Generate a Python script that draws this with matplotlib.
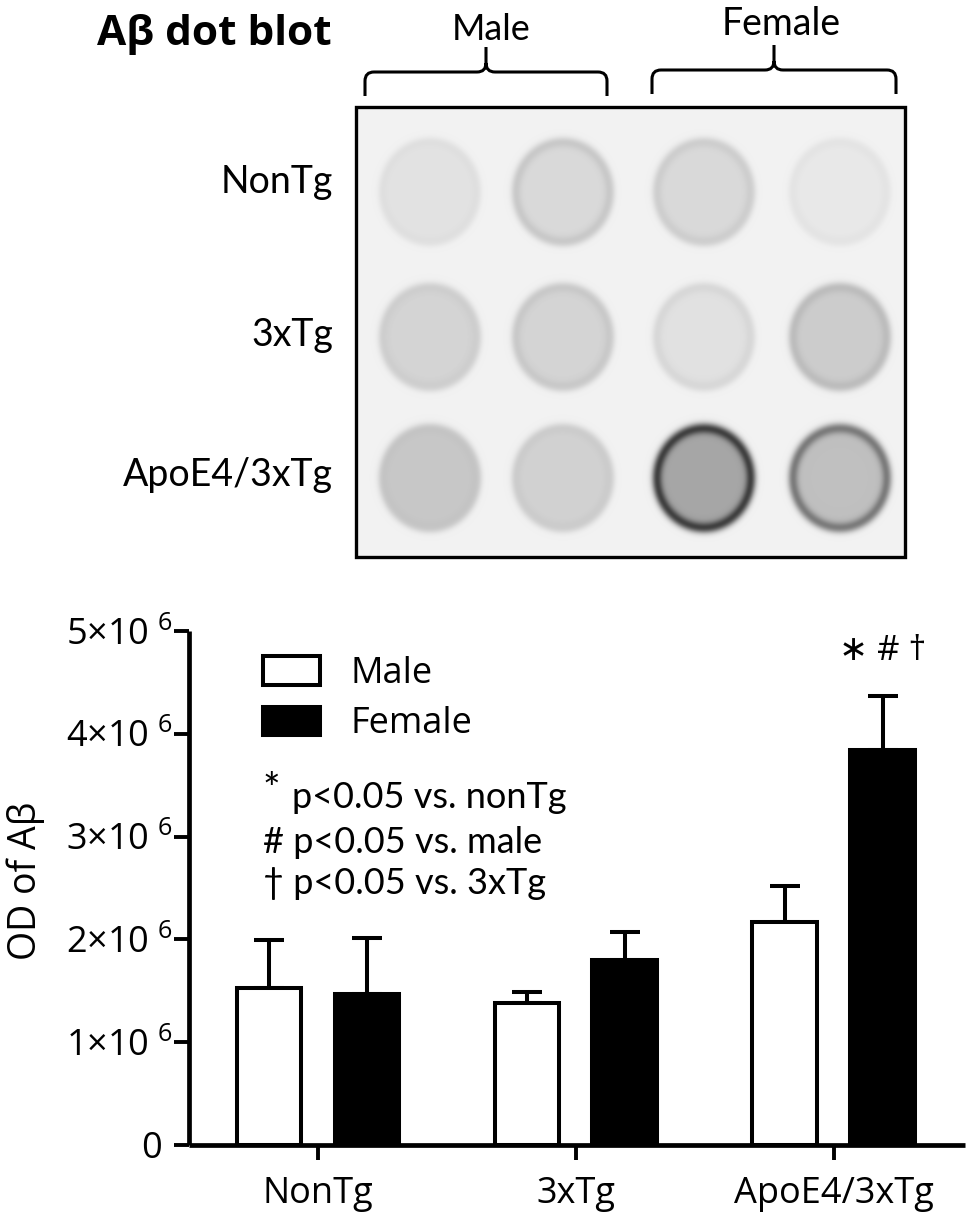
import numpy as np
import matplotlib
matplotlib.use("Agg")
import matplotlib.pyplot as plt
from matplotlib.path import Path
from matplotlib.patches import PathPatch, Rectangle
from matplotlib.ticker import FixedLocator, FuncFormatter

# ---------------- data ----------------
groups = ["NonTg", "3xTg", "ApoE4/3xTg"]
sexes = ["Male", "Female"]
male_mean = [1.53e6, 1.38e6, 2.17e6]
male_sem = [0.46e6, 0.11e6, 0.35e6]
female_mean = [1.47e6, 1.80e6, 3.84e6]
female_sem = [0.54e6, 0.27e6, 0.53e6]
y_ticks = [0, 1e6, 2e6, 3e6, 4e6, 5e6]
sig_marks = "∗ # †"
legend_notes = ["p<0.05 vs. nonTg", "# p<0.05 vs. male", "† p<0.05 vs. 3xTg"]

# dot blot: rows = genotype, cols = Male, Male, Female, Female
blot_rows = ["NonTg", "3xTg", "ApoE4/3xTg"]
blot_fill = [[0.06, 0.10, 0.10, 0.04],
             [0.12, 0.12, 0.07, 0.15],
             [0.17, 0.13, 0.30, 0.20]]
blot_rim = [[0.02, 0.07, 0.05, 0.02],
            [0.03, 0.05, 0.04, 0.07],
            [0.02, 0.03, 0.42, 0.28]]
blot_bg = 0.05

# ---------------- figure ----------------
W, H = 970, 1220
fig = plt.figure(figsize=(W / 100, H / 100), dpi=100)
fig.patch.set_facecolor("white")

SANS = ["Open Sans", "DejaVu Sans"]
CAL = ["Lato", "DejaVu Sans"]
plt.rcParams["mathtext.default"] = "regular"

# ---- top panel (pixel coordinates) ----
axt = fig.add_axes([0, 0, 1, 1])
axt.set_xlim(0, W)
axt.set_ylim(H, 0)
axt.axis("off")

bx0, bx1, by0, by1 = 356, 905, 107, 557
col_cx = [430, 563, 704, 840]
row_cy = [192, 337, 478]
rx, ry = 51, 54
xs = np.arange(bx0, bx1) + 0.5
ys = np.arange(by0, by1) + 0.5
X, Y = np.meshgrid(xs, ys)
dark = np.full(X.shape, blot_bg)
for i, cy in enumerate(row_cy):
    for j, cx in enumerate(col_cx):
        r = np.sqrt(((X - cx) / rx) ** 2 + ((Y - cy) / ry) ** 2)
        disk = 0.5 * (1 - np.tanh((r - 1.0) / 0.07))
        ring = np.exp(-((r - 0.92) / 0.1) ** 2)
        dark += blot_fill[i][j] * disk + blot_rim[i][j] * ring
img = np.clip(1 - dark, 0, 1)
axt.imshow(img, cmap="gray", vmin=0, vmax=1, extent=(bx0, bx1, by1, by0),
           interpolation="bilinear", aspect="auto", zorder=1)
axt.add_patch(Rectangle((bx0, by0), bx1 - bx0, by1 - by0, fill=False,
                        lw=2.4, ec="black", zorder=3))


def brace(x0, x1, xm, yh, yend, ytip, r=9):
    verts = [(x0, yend), (x0, yh + r), (x0, yh), (x0 + r, yh), (xm - r, yh),
             (xm, yh), (xm, yh - r), (xm, ytip),
             (xm, yh - r), (xm, yh), (xm + r, yh), (x1 - r, yh),
             (x1, yh), (x1, yh + r), (x1, yend)]
    codes = [Path.MOVETO, Path.LINETO, Path.CURVE3, Path.CURVE3, Path.LINETO,
             Path.CURVE3, Path.CURVE3, Path.LINETO,
             Path.MOVETO, Path.CURVE3, Path.CURVE3, Path.LINETO,
             Path.CURVE3, Path.CURVE3, Path.LINETO]
    axt.add_patch(PathPatch(Path(verts, codes), fill=False, lw=2.2,
                            ec="black", capstyle="butt", zorder=3))


brace(365, 607, 486, 72, 96, 47)
brace(652, 896, 774, 70, 94, 45)
axt.text(491, 40, sexes[0], family=CAL, fontsize=26, ha="center", va="baseline")
axt.text(781, 35, sexes[1], family=CAL, fontsize=27, ha="center", va="baseline")
axt.text(97, 45, "Aβ dot blot", family=SANS, fontsize=30.5, fontweight="bold",
         ha="left", va="baseline")
label_base = [193, 346, 486]
for name, yb in zip(blot_rows, label_base):
    axt.text(333, yb, name, family=CAL, fontsize=27, ha="right", va="baseline")

# ---- bar chart ----
ax = fig.add_axes([189 / W, 1 - 1145 / H, (965 - 189) / W, (1145 - 631) / H])
x = np.arange(len(groups))
off, bw = 0.19, 0.25
lw = 2.9
bm = ax.bar(x - off, male_mean, bw, facecolor="white", edgecolor="black",
            linewidth=lw, zorder=3, label=sexes[0])
bf = ax.bar(x + off, female_mean, bw, facecolor="black", edgecolor="black",
            linewidth=lw, zorder=3, label=sexes[1])
ax.errorbar(x - off, male_mean, yerr=[np.zeros(3), male_sem], fmt="none",
            ecolor="black", elinewidth=lw, capsize=11, capthick=lw, zorder=2)
ax.errorbar(x + off, female_mean, yerr=[np.zeros(3), female_sem], fmt="none",
            ecolor="black", elinewidth=lw, capsize=11, capthick=lw, zorder=2)

ax.set_xlim(-0.5, 2.51)
ax.set_ylim(0, 5e6)
for s in ["top", "right"]:
    ax.spines[s].set_visible(False)
for s in ["left", "bottom"]:
    ax.spines[s].set_linewidth(3.4)
    ax.spines[s].set_capstyle("butt")

ax.yaxis.set_major_locator(FixedLocator(y_ticks))


def yfmt(v, pos):
    if v == 0:
        return "0 "
    return r"$%d{\times}10^{\ 6}$" % round(v / 1e6)


ax.yaxis.set_major_formatter(FuncFormatter(yfmt))
ax.tick_params(axis="y", length=11, width=2.8, pad=1, labelsize=26)
ax.set_xticks(x)
ax.set_xticklabels(groups)
ax.tick_params(axis="x", length=11, width=2.8, pad=11, labelsize=26)
for t in ax.get_xticklabels() + ax.get_yticklabels():
    t.set_family(SANS)

fig.text(26 / W, 1 - 881 / H, "OD of Aβ", family=SANS, fontsize=27,
         rotation=90, ha="center", va="center")

leg = ax.legend(handles=[bm, bf], loc="upper left",
                bbox_to_anchor=((263 - 189) / 776, (1145 - 656) / 514),
                frameon=False, borderpad=0, borderaxespad=0,
                prop={"family": SANS, "size": 26},
                handlelength=1.58, handleheight=0.83, handletextpad=0.85,
                labelspacing=0.4)

# significance legend notes
fx = lambda px: (px - 189) / 776
fy = lambda py: (1145 - py) / 514
ax.text(fx(263), fy(791), "*", transform=ax.transAxes, family=CAL,
        fontsize=30, ha="left", va="center")
ax.text(fx(292), fy(808), legend_notes[0], transform=ax.transAxes, family=CAL,
        fontsize=26, ha="left", va="baseline")
ax.text(fx(263), fy(853), legend_notes[1], transform=ax.transAxes, family=CAL,
        fontsize=26, ha="left", va="baseline")
ax.text(fx(263), fy(894), legend_notes[2], transform=ax.transAxes, family=CAL,
        fontsize=26, ha="left", va="baseline")

# significance marks above ApoE4/3xTg female bar
ax.annotate(sig_marks, xy=(x[2] + off, female_mean[2] + female_sem[2]),
            xytext=(0, 20), textcoords="offset points", ha="center",
            va="bottom", family=SANS, fontsize=25)

fig.savefig("out.png", dpi=100, facecolor="white")
